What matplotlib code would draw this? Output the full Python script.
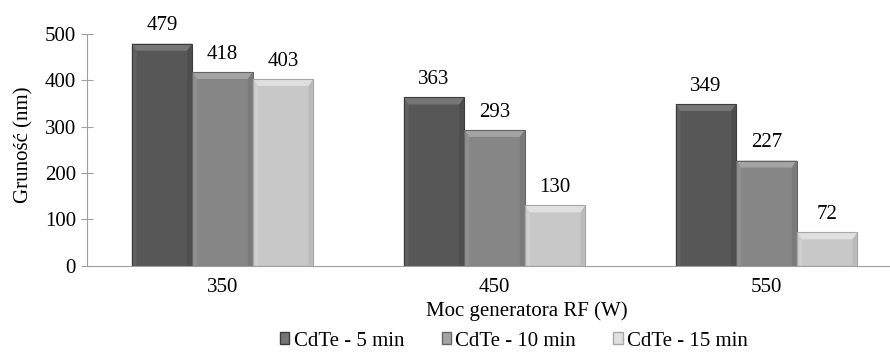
import numpy as np
import matplotlib
matplotlib.use("Agg")
from matplotlib import pyplot as plt
from matplotlib.patches import Polygon, Patch

plt.rcParams['font.family'] = ['Liberation Serif', 'DejaVu Serif']

# RF power categories and grain size per deposition time
categories = ['350', '450', '550']
series_names = ['CdTe - 5 min', 'CdTe - 10 min', 'CdTe - 15 min']
vals_5min = [479, 363, 349]
vals_10min = [418, 293, 227]
vals_15min = [403, 130, 72]

# base, top facet, side facet, outline
shades = [('#575757', '#767676', '#4e4e4e', '#3c3c3c'),
          ('#868686', '#a4a4a4', '#7a7a7a', '#666666'),
          ('#c8c8c8', '#e0e0e0', '#bababa', '#a8a8a8')]

fig = plt.figure(figsize=(8.9, 3.58), dpi=100)
ax = fig.add_axes([86.5/890, 1 - 265.7/358, 816/890, 231.7/358])

x = np.arange(len(categories))
w = 0.223
ymax = 500
FS = 15


def bevel(ax, x0, x1, h, cols):
    base, top, side, edge = cols
    dx = (x1 - x0) * 5/61
    dy = min(ymax * 7/232, h/2)
    ax.add_patch(Polygon([(x0, h), (x1, h), (x1-dx, h-dy), (x0+dx, h-dy)], closed=True,
                         facecolor=top, edgecolor='none', zorder=3))
    ax.add_patch(Polygon([(x1, 0), (x1, h), (x1-dx, h-dy), (x1-dx, 0)], closed=True,
                         facecolor=side, edgecolor='none', zorder=3))
    ax.add_patch(Polygon([(x0, 0), (x0, h), (x0+dx, h-dy), (x0+dx, 0)], closed=True,
                         facecolor=top, edgecolor='none', alpha=0.35, zorder=3))


for i, vals in enumerate([vals_5min, vals_10min, vals_15min]):
    pos = x + (i - 1) * w
    bars = ax.bar(pos, vals, width=w, color=shades[i][0], edgecolor='none', zorder=2)
    for b, v in zip(bars, vals):
        bevel(ax, b.get_x(), b.get_x() + b.get_width(), v, shades[i])
        ax.bar(b.get_x() + b.get_width()/2, v, width=w, facecolor='none',
               edgecolor=shades[i][3], linewidth=0.8, zorder=4)
        ax.annotate(str(v), (b.get_x() + b.get_width()/2, v), xytext=(0, 6),
                    textcoords='offset points', ha='center', va='bottom', fontsize=FS)

ax.set_xlim(-0.5, 2.5)
ax.set_ylim(0, ymax)
ax.set_yticks([0, 100, 200, 300, 400, 500])
ax.set_xticks(x)
ax.set_xticklabels(categories, fontsize=FS)
ax.tick_params(axis='y', labelsize=FS, length=9, direction='inout', color='#a0a0a0', pad=3)
ax.tick_params(axis='x', length=0, pad=9)
for s in ['top', 'right']:
    ax.spines[s].set_visible(False)
ax.spines['left'].set_color('#a0a0a0')
ax.spines['bottom'].set_color('#a0a0a0')

ax.set_ylabel('Gruność (nm)', fontsize=FS)
ax.yaxis.set_label_coords(-(86.5 - 33)/816, 0.52)
fig.text(527/890, 1 - 311/358, 'Moc generatora RF (W)', ha='center', va='center', fontsize=FS)

handles = [Patch(facecolor=shades[i][1], edgecolor=shades[i][3]) for i in range(3)]
fig.legend(handles, series_names, loc='center', bbox_to_anchor=(514/890, 1 - 341/358),
           ncol=3, frameon=False, fontsize=FS, handlelength=0.45, handleheight=0.45,
           handletextpad=0.2, columnspacing=1.8, borderpad=0)

fig.savefig('out.png', dpi=100)
